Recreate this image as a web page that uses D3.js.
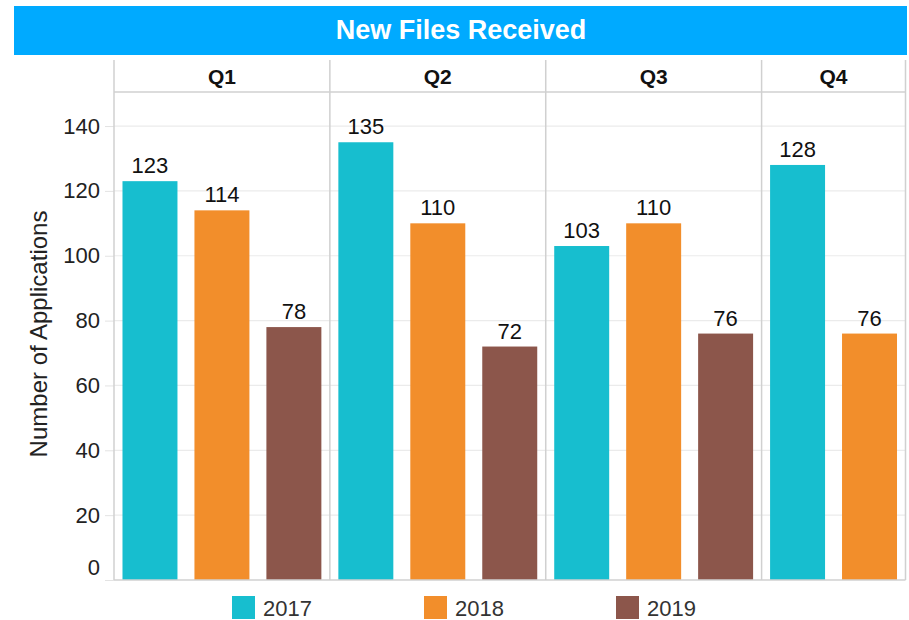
<!DOCTYPE html>
<html>
<head>
<meta charset="utf-8">
<script src="https://cdn.jsdelivr.net/npm/d3@7"></script>
<style>
  body { margin: 0; background: #fff; }
  text { font-family: "Liberation Sans", Arial, sans-serif; }
</style>
</head>
<body>
<div id="chart"></div>
<script>
// chart data
const quarters = ['Q1', 'Q2', 'Q3', 'Q4']
const years = ['2017', '2018', '2019']
const v2017 = [123, 135, 103, 128]
const v2018 = [114, 110, 110, 76]
const v2019 = [78, 72, 76, null]
const yTicks = [0, 20, 40, 60, 80, 100, 120, 140]
const colors = ['#17becf', '#f28e2b', '#8c564b']

const w = 909
const h = 620
const pLeft = 114
const pRight = 905.5
const pTop = 92
const pBottom = 580

const series = [v2017, v2018, v2019]

// one row per quarter with the bars that exist
const panels = quarters.map((q, i) => {
    const bars = years
        .map((y, j) => ({ year: y, value: series[j][i], color: colors[j] }))
        .filter(d => d.value != null)
    return { q: q, bars: bars }
})

const totalBars = d3.sum(panels, d => d.bars.length)
const slot = (pRight - pLeft) / totalBars
let acc = pLeft
panels.forEach(p => {
    p.x0 = acc
    p.x1 = acc + p.bars.length * slot
    acc = p.x1
})

const svg = d3.select('#chart')
    .append('svg')
    .attr('width', w)
    .attr('height', h)

// title bar
svg.append('rect')
    .attr('x', 14).attr('y', 6)
    .attr('width', 893).attr('height', 49)
    .attr('fill', '#00aaff')
svg.append('text')
    .attr('x', 461).attr('y', 30)
    .attr('text-anchor', 'middle')
    .attr('dominant-baseline', 'central')
    .attr('fill', '#fff')
    .attr('font-size', 27)
    .attr('font-weight', 'bold')
    .text('New Files Received')

const yScale = d3.scaleLinear()
    .domain([0, 150.5])
    .range([pBottom, pTop])

// gridlines
svg.append('g')
    .selectAll('line')
    .data(yTicks.slice(1))
    .enter()
    .append('line')
    .attr('x1', pLeft).attr('x2', pRight)
    .attr('y1', d => yScale(d)).attr('y2', d => yScale(d))
    .attr('stroke', '#ebebeb')
    .attr('stroke-width', 1.2)

// y axis
const yAxis = d3.axisLeft(yScale)
    .tickValues(yTicks)
    .tickSize(9)
    .tickPadding(5)

const yg = svg.append('g')
    .attr('transform', 'translate(' + pLeft + ',0)')
    .call(yAxis)
yg.select('.domain').remove()
yg.selectAll('.tick line').attr('stroke', '#e3e3e3')
yg.selectAll('.tick text')
    .attr('font-size', 22)
    .attr('fill', '#222')
    .attr('font-family', '"Liberation Sans", Arial, sans-serif')
// the 0 label sits a little higher in the reference
yg.selectAll('.tick text').filter(d => d === 0).attr('dy', '-0.25em')

svg.append('text')
    .attr('transform', 'translate(47,334) rotate(-90)')
    .attr('text-anchor', 'middle')
    .attr('font-size', 24)
    .attr('fill', '#222')
    .text('Number of Applications')

// panels
panels.forEach(p => {
    const g = svg.append('g')

    const x = d3.scaleBand()
        .domain(p.bars.map(d => d.year))
        .range([p.x0, p.x1])
        .paddingInner(0.236)
        .paddingOuter(0.118)

    g.selectAll('rect.bar')
        .data(p.bars)
        .enter()
        .append('rect')
        .attr('class', 'bar')
        .attr('x', d => x(d.year))
        .attr('width', x.bandwidth())
        .attr('y', d => yScale(d.value))
        .attr('height', d => pBottom - yScale(d.value))
        .attr('fill', d => d.color)

    g.selectAll('text.val')
        .data(p.bars)
        .enter()
        .append('text')
        .attr('class', 'val')
        .attr('x', d => x(d.year) + x.bandwidth() / 2)
        .attr('y', d => yScale(d.value) - 8)
        .attr('text-anchor', 'middle')
        .attr('font-size', 22)
        .attr('fill', '#111')
        .text(d => d.value)

    // header label
    g.append('text')
        .attr('x', (p.x0 + p.x1) / 2)
        .attr('y', 76)
        .attr('text-anchor', 'middle')
        .attr('dominant-baseline', 'central')
        .attr('font-size', 21)
        .attr('font-weight', 'bold')
        .attr('fill', '#111')
        .text(p.q)
})

// panel borders
const edges = [pLeft].concat(panels.map(p => p.x1))
svg.append('g')
    .selectAll('line')
    .data(edges)
    .enter()
    .append('line')
    .attr('x1', d => d).attr('x2', d => d)
    .attr('y1', 60).attr('y2', pBottom)
    .attr('stroke', '#d0d0d0')
    .attr('stroke-width', 1.5)

// header bottom line and x axis line
svg.append('line')
    .attr('x1', pLeft).attr('x2', pRight)
    .attr('y1', pTop).attr('y2', pTop)
    .attr('stroke', '#d0d0d0').attr('stroke-width', 1.5)
svg.append('line')
    .attr('x1', pLeft).attr('x2', pRight)
    .attr('y1', pBottom).attr('y2', pBottom)
    .attr('stroke', '#d0d0d0').attr('stroke-width', 1.5)

// legend
const legend = svg.append('g')
    .selectAll('g')
    .data(years)
    .enter()
    .append('g')
    .attr('transform', (d, i) => 'translate(' + (232 + i * 192) + ',596)')
legend.append('rect')
    .attr('width', 23).attr('height', 23)
    .attr('fill', (d, i) => colors[i])
legend.append('text')
    .attr('x', 31).attr('y', 12)
    .attr('dominant-baseline', 'central')
    .attr('font-size', 22)
    .attr('fill', '#333')
    .text(d => d)
</script>
</body>
</html>
